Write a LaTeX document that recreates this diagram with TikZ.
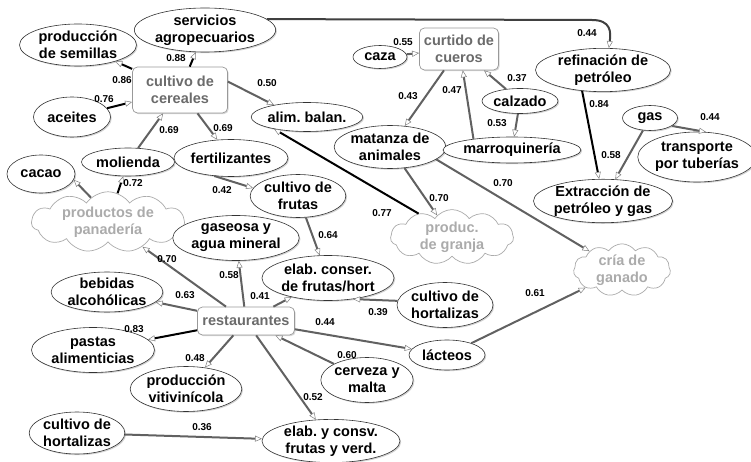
\documentclass[tikz,border=0pt]{standalone}
\usepackage{fontspec}
\setmainfont{Liberation Sans}
\frenchspacing
\usetikzlibrary{shapes.geometric,shapes.symbols,arrows.meta,shadows}
\tikzset{
  txt/.style={font=\fontsize{14.5}{17}\selectfont\bfseries\frenchspacing, align=center, inner sep=0pt},
  nd/.style={txt, ellipse, draw=black!80, line width=0.6pt, fill=white,
    drop shadow={shadow xshift=1.2pt,shadow yshift=-1.2pt,opacity=0.35}},
  bx/.style={txt, rectangle, rounded corners=5pt, draw=black!40, line width=0.7pt, fill=white, text=black!58,
    drop shadow={shadow xshift=1.2pt,shadow yshift=-1.2pt,opacity=0.3}},
  cl/.style={txt, cloud, cloud puffs=11, cloud puff arc=110, cloud ignores aspect, draw=black!33, line width=0.7pt, fill=white, text=black!33},
  lbl/.style={font=\fontsize{10}{12}\selectfont\bfseries, inner sep=0pt},
  arrtip/.style={-{Triangle[length=7pt,width=6pt,line width=0.5pt,fill=white,color=black!50]}},
  eg/.style={draw=black!62, line width=2pt, arrtip},
  ek/.style={draw=black, line width=2pt, arrtip},
}
\begin{document}
\begin{tikzpicture}[x=1pt,y=-1pt]
\useasboundingbox[fill=white] (0,0) rectangle (751,462);
% nodes
\node[nd, minimum width=117pt, minimum height=42pt] (sem) at (78,45) {producción\\de semillas};
\node[nd, minimum width=140pt, minimum height=44pt] (serv) at (205,30) {servicios\\agropecuarios};
\node[bx, minimum width=95pt, minimum height=46pt] (cer) at (180,90) {cultivo de\\cereales};
\node[nd, minimum width=77pt, minimum height=40pt] (ace) at (72,117) {aceites};
\node[nd, minimum width=109pt, minimum height=29pt] (alim) at (307,117) {alim. balan.};
\node[nd, minimum width=93pt, minimum height=28pt] (mol) at (128,162) {molienda};
\node[nd, minimum width=108pt, minimum height=37pt] (fert) at (231,158) {fertilizantes};
\node[nd, minimum width=68pt, minimum height=38pt] (cacao) at (41,174) {cacao};
\node[cl, minimum width=153pt, minimum height=52pt] (pan) at (108,222) {productos de\\panadería};
\node[nd, minimum width=90pt, minimum height=43pt] (fru) at (298,196) {cultivo de\\frutas};
\node[nd, minimum width=118pt, minimum height=45pt] (gas2) at (236,238) {gaseosa y\\agua mineral};
\node[nd, minimum width=130pt, minimum height=45pt] (elc) at (328,278) {elab. conser.\\de frutas/hort};
\node[cl, minimum width=123pt, minimum height=50pt] (gra) at (452,237) {produc.\\de granja};
\node[nd, minimum width=106pt, minimum height=43pt] (mat) at (390,147) {matanza de\\animales};
\node[bx, minimum width=79pt, minimum height=42pt] (cur) at (459,49) {curtido de\\cueros};
\node[nd, minimum width=54pt, minimum height=23pt] (caza) at (380,57) {caza};
\node[nd, minimum width=76pt, minimum height=25pt] (cal) at (520,101) {calzado};
\node[nd, minimum width=137pt, minimum height=26pt] (mar) at (512,150) {marroquinería};
\node[nd, minimum width=135pt, minimum height=42pt] (ref) at (603,70) {refinación de\\petróleo};
\node[nd, minimum width=55pt, minimum height=25pt] (gas) at (650,118) {gas};
\node[nd, minimum width=110pt, minimum height=50pt] (tra) at (697,157) {transporte\\por tuberías};
\node[nd, minimum width=137pt, minimum height=42pt] (ext) at (603,201) {Extracción de\\petróleo y gas};
\node[cl, minimum width=97pt, minimum height=52pt] (cria) at (622,270) {cría de\\ganado};
\node[nd, minimum width=96pt, minimum height=45pt] (horR) at (445,305) {cultivo de\\hortalizas};
\node[nd, minimum width=103pt, minimum height=40pt] (beb) at (107,292) {bebidas\\alcohólicas};
\node[bx, minimum width=97pt, minimum height=28pt] (res) at (246,321) {restaurantes};
\node[nd, minimum width=123pt, minimum height=45pt] (pas) at (93,350) {pastas\\alimenticias};
\node[nd, minimum width=108pt, minimum height=45pt] (vit) at (186,389) {producción\\vitivinícola};
\node[nd, minimum width=76pt, minimum height=30pt] (lac) at (447,355) {lácteos};
\node[nd, minimum width=91pt, minimum height=45pt] (cer2) at (367,380) {cerveza y\\malta};
\node[nd, minimum width=91pt, minimum height=42pt] (horL) at (77,433) {cultivo de\\hortalizas};
\node[nd, minimum width=138pt, minimum height=42pt] (elv) at (331,441) {elab. y consv.\\frutas y verd.};
% connectors
\draw[ek] (cer) -- (serv);
\draw[ek] (cer) -- (sem);
\draw[ek] (ace) -- (cer);
\draw[eg] (cer.10) -- (alim.160);
\draw[eg] (mol) -- (cer);
\draw[eg] (cer) -- (fert);
\draw[eg] (fert.-133) -- (fru.170);
\draw[ek] (gra.145) -- (alim.200);
\draw[eg] (fru) -- (elc);
\draw[eg] (mat) -- (gra);
\draw[eg] (mat.-15) -- (cria.150);
\draw[eg] (cur) -- (mat);
\draw[eg] (mar.164) -- (cur.-80);
\draw[eg] (cal) -- (cur);
\draw[eg] (cal) -- (mar);
\draw[eg] (caza) -- (cur);
\coordinate (cA) at (592,20);
\coordinate (cB) at (611,20);
\coordinate (cC) at (611,32);
\draw[draw=black!75, line width=2pt, arrtip] (serv.10) -- (cA) .. controls (cB) and (cC) .. (ref.75);
\draw[ek] (ref.-135) -- (ext.100);
\draw[eg] (gas) -- (ext);
\draw[eg] (gas.-20) -- (tra.70);
\draw[eg] (res) -- (pan);
\draw[eg] (res) -- (gas2);
\draw[eg] (res) -- (elc);
\draw[eg] (res) -- (beb);
\draw[ek] (res) -- (pas);
\draw[eg] (res) -- (vit);
\draw[eg] (res) -- (lac);
\draw[eg] (cer2) -- (res);
\draw[eg] (res) -- (elv);
\draw[eg] (horL) -- (elv);
\draw[eg] (horR.175) -- (elc.-40);
\draw[eg] (lac) -- (cria);
\draw[eg] (pan.125) -- (cacao.-10);
\draw[ek] (pan) -- (mol);
% weights
\node[lbl] (w1) at (176,58) {0.88};
\node[lbl] (w2) at (122,80) {0.86};
\node[lbl] (w3) at (104,99) {0.76};
\node[lbl] (w4) at (267,83) {0.50};
\node[lbl] (w5) at (169,130) {0.69};
\node[lbl] (w6) at (223,128) {0.69};
\node[lbl] (w7) at (222,190) {0.42};
\node[lbl] (w8) at (382,213) {0.77};
\node[lbl] (w9) at (439,198) {0.70};
\node[lbl] (w10) at (503,183) {0.70};
\node[lbl] (w11) at (328,235) {0.64};
\node[lbl] (w12) at (408,96) {0.43};
\node[lbl] (w13) at (452,90) {0.47};
\node[lbl] (w14) at (517,78) {0.37};
\node[lbl] (w15) at (497,123) {0.53};
\node[lbl] (w16) at (403,42) {0.55};
\node[lbl] (w17) at (587,33) {0.44};
\node[lbl] (w18) at (599,104) {0.84};
\node[lbl] (w19) at (611,155) {0.58};
\node[lbl] (w20) at (710,117) {0.44};
\node[lbl] (w21) at (133,183) {0.72};
\node[lbl] (w22) at (167,259) {0.70};
\node[lbl] (w23) at (229,275) {0.58};
\node[lbl] (w24) at (260,296) {0.41};
\node[lbl] (w25) at (185,295) {0.63};
\node[lbl] (w26) at (378,312) {0.39};
\node[lbl] (w27) at (325,322) {0.44};
\node[lbl] (w28) at (134,329) {0.83};
\node[lbl] (w29) at (195,358) {0.48};
\node[lbl] (w30) at (347,355) {0.60};
\node[lbl] (w31) at (313,397) {0.52};
\node[lbl] (w32) at (202,427) {0.36};
\node[lbl] (w33) at (535,293) {0.61};
\end{tikzpicture}
\end{document}
